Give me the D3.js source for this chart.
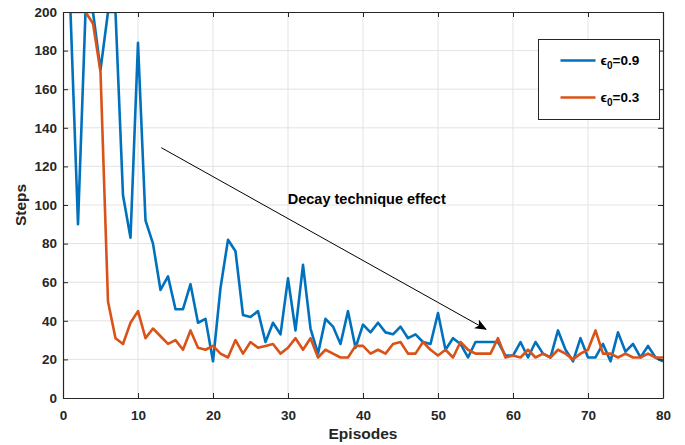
<!DOCTYPE html>
<html>
<head>
<meta charset="utf-8">
<script src="https://cdn.jsdelivr.net/npm/d3@7"></script>
<style>
  html, body { margin: 0; padding: 0; background: #fff; overflow: hidden; }
  svg { display: block; }
  text { font-family: "Liberation Sans", Arial, sans-serif; font-weight: bold; }
</style>
</head>
<body>
<div id="chart"></div>
<script>
// Episode numbers 1..80
var episodes = d3.range(1, 81);

// Steps per episode, epsilon0 = 0.9
var stepsHigh = [
  200, 90, 200, 200, 170, 200, 200, 105, 83, 184,
  92, 80, 56, 63, 46, 46, 59, 39, 41, 19,
  57, 82, 76, 43, 42, 45, 29, 39, 33, 62,
  35, 69, 36, 23, 41, 37, 28, 45, 26, 38,
  34, 39, 34, 33, 37, 31, 33, 29, 28, 44,
  25, 31, 28, 21, 29, 29, 29, 29, 22, 22,
  29, 21, 29, 23, 21, 35, 25, 19, 31, 21,
  21, 28, 19, 34, 24, 28, 21, 27, 21, 19
];

// Steps per episode, epsilon0 = 0.3
var stepsLow = [
  200, 200, 200, 194, 169, 50, 31, 28, 39, 45,
  31, 36, 32, 28, 30, 25, 35, 26, 25, 27,
  23, 21, 30, 23, 29, 26, 27, 28, 23, 26,
  31, 25, 31, 21, 25, 23, 21, 21, 27, 27,
  23, 25, 23, 28, 29, 23, 23, 29, 25, 22,
  25, 21, 29, 25, 23, 23, 23, 31, 21, 22,
  21, 25, 21, 23, 21, 25, 23, 20, 23, 25,
  35, 23, 23, 21, 23, 21, 21, 23, 21, 21
];

var xTicks = [0, 10, 20, 30, 40, 50, 60, 70, 80];
var yTicks = [0, 20, 40, 60, 80, 100, 120, 140, 160, 180, 200];

var seriesNames = ['0.9', '0.3'];
var seriesColors = ['#0072BD', '#D95319'];

var width = 685;
var height = 445;
var margin = { top: 12, right: 22, bottom: 47, left: 63 };
var innerWidth = width - margin.left - margin.right;
var innerHeight = height - margin.top - margin.bottom;

var x = d3.scaleLinear().domain([0, 80]).range([0, innerWidth]);
var y = d3.scaleLinear().domain([0, 200]).range([innerHeight, 0]);

var svg = d3.select('#chart')
            .append('svg')
            .attr('width', width)
            .attr('height', height);

var g = svg.append('g')
           .attr('transform', 'translate(' + margin.left + ',' + margin.top + ')');

// Grid
g.append('g')
 .attr('class', 'grid')
 .selectAll('line')
 .data(xTicks.slice(1, -1))
 .enter()
 .append('line')
 .attr('x1', function (d) { return x(d); })
 .attr('x2', function (d) { return x(d); })
 .attr('y1', 0)
 .attr('y2', innerHeight)
 .attr('stroke', '#e3e3e3')
 .attr('stroke-width', 1);

g.append('g')
 .attr('class', 'grid')
 .selectAll('line')
 .data(yTicks.slice(1, -1))
 .enter()
 .append('line')
 .attr('x1', 0)
 .attr('x2', innerWidth)
 .attr('y1', function (d) { return y(d); })
 .attr('y2', function (d) { return y(d); })
 .attr('stroke', '#e3e3e3')
 .attr('stroke-width', 1);

// Clip
svg.append('defs')
   .append('clipPath')
   .attr('id', 'clip')
   .append('rect')
   .attr('width', innerWidth)
   .attr('height', innerHeight);

var line = d3.line()
             .x(function (d) { return x(d[0]); })
             .y(function (d) { return y(d[1]); });

[stepsHigh, stepsLow].forEach(function (values, i) {
  g.append('path')
   .datum(episodes.map(function (e, j) { return [e, values[j]]; }))
   .attr('clip-path', 'url(#clip)')
   .attr('fill', 'none')
   .attr('stroke', seriesColors[i])
   .attr('stroke-width', 2.6)
   .attr('stroke-linejoin', 'round')
   .attr('d', line);
});

// Axes (ticks inward, box on)
var axisStyle = function (sel) {
  sel.select('.domain').attr('stroke', '#262626').attr('stroke-width', 1.2);
  sel.selectAll('.tick line').attr('stroke', '#262626');
  sel.selectAll('.tick text')
     .attr('fill', '#262626')
     .style('font-size', '13.5px');
};

g.append('g')
 .attr('transform', 'translate(0,' + innerHeight + ')')
 .call(d3.axisBottom(x).tickValues(xTicks).tickSizeInner(-5).tickSizeOuter(0).tickPadding(12))
 .call(axisStyle);

g.append('g')
 .call(d3.axisLeft(y).tickValues(yTicks).tickSizeInner(-5).tickSizeOuter(0).tickPadding(6))
 .call(axisStyle);

g.append('g')
 .call(d3.axisTop(x).tickValues(xTicks).tickSizeInner(-5).tickSizeOuter(0))
 .call(axisStyle)
 .call(function (sel) { sel.selectAll('.tick text').remove(); });

g.append('g')
 .attr('transform', 'translate(' + innerWidth + ',0)')
 .call(d3.axisRight(y).tickValues(yTicks).tickSizeInner(-5).tickSizeOuter(0))
 .call(axisStyle)
 .call(function (sel) { sel.selectAll('.tick text').remove(); });

// Axis titles
svg.append('text')
   .attr('x', margin.left + innerWidth / 2)
   .attr('y', 439)
   .attr('text-anchor', 'middle')
   .attr('fill', '#262626')
   .style('font-size', '15.5px')
   .text('Episodes');

svg.append('text')
   .attr('transform', 'translate(26,' + (margin.top + innerHeight / 2) + ') rotate(-90)')
   .attr('text-anchor', 'middle')
   .attr('fill', '#262626')
   .style('font-size', '15.5px')
   .text('Steps');

// Annotation arrow
svg.append('defs')
   .append('marker')
   .attr('id', 'head')
   .attr('viewBox', '0 0 12 10')
   .attr('refX', 11)
   .attr('refY', 5)
   .attr('markerWidth', 12)
   .attr('markerHeight', 10)
   .attr('markerUnits', 'userSpaceOnUse')
   .attr('orient', 'auto')
   .append('path')
   .attr('d', 'M0,0 L12,5 L0,10 L3,5 Z')
   .attr('fill', '#000');

g.append('line')
 .attr('x1', x(13.1))
 .attr('y1', y(129.7))
 .attr('x2', x(56.4))
 .attr('y2', y(35.6))
 .attr('stroke', '#000')
 .attr('stroke-width', 1)
 .attr('marker-end', 'url(#head)');

g.append('text')
 .attr('x', x(40.5))
 .attr('y', y(100.3))
 .attr('text-anchor', 'middle')
 .attr('fill', '#000')
 .style('font-size', '14.5px')
 .text('Decay technique effect');

// Legend
var legend = svg.append('g')
                .attr('transform', 'translate(538.5,39.5)');

legend.append('rect')
      .attr('width', 121)
      .attr('height', 80)
      .attr('fill', '#fff')
      .attr('stroke', '#262626')
      .attr('stroke-width', 1);

seriesNames.forEach(function (name, i) {
  var ly = 21 + i * 37;
  legend.append('line')
        .attr('x1', 22)
        .attr('x2', 57)
        .attr('y1', ly)
        .attr('y2', ly)
        .attr('stroke', seriesColors[i])
        .attr('stroke-width', 2.6);
  var t = legend.append('text')
                .attr('x', 62)
                .attr('y', ly + 4)
                .attr('fill', '#000')
                .style('font-size', '13.5px');
  t.append('tspan').text('\u03F5');
  t.append('tspan').attr('dy', 4).style('font-size', '10px').text('0');
  t.append('tspan').attr('dy', -4).text('=' + name);
});
</script>
</body>
</html>
